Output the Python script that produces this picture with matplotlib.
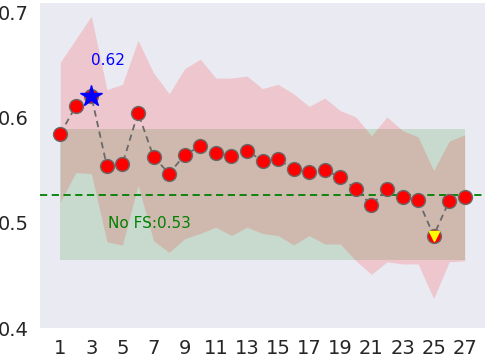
import matplotlib
matplotlib.use("Agg")
import matplotlib.pyplot as plt

# Data
x_vals = list(range(1, 28))
means = [0.585, 0.611, 0.621, 0.554, 0.556, 0.605, 0.563, 0.547, 0.565, 0.573,
         0.567, 0.564, 0.569, 0.559, 0.561, 0.551, 0.549, 0.550, 0.544, 0.532,
         0.517, 0.532, 0.525, 0.522, 0.488, 0.521, 0.525]
band_upper = [0.653, 0.675, 0.697, 0.627, 0.632, 0.674, 0.643, 0.623, 0.647, 0.656,
              0.638, 0.638, 0.640, 0.628, 0.632, 0.623, 0.611, 0.619, 0.607, 0.601,
              0.583, 0.601, 0.588, 0.582, 0.550, 0.578, 0.584]
band_lower = [0.520, 0.548, 0.547, 0.482, 0.479, 0.536, 0.483, 0.472, 0.485, 0.490,
              0.496, 0.488, 0.496, 0.490, 0.488, 0.479, 0.488, 0.480, 0.480, 0.464,
              0.451, 0.463, 0.461, 0.461, 0.428, 0.463, 0.464]
no_fs_mean = 0.527
no_fs_std = 0.0625
best_idx = 2
worst_idx = 24
y_ticks = [0.4, 0.5, 0.6, 0.7]
x_ticks = list(range(1, 28, 2))

fig = plt.figure(figsize=(4.87, 3.54), dpi=100)
ax = fig.add_axes([40/487, 26/354, 445/487, 325/354])
ax.set_facecolor('#EAEAF2')
for s in ax.spines.values():
    s.set_visible(False)

ax.fill_between(x_vals, [no_fs_mean - no_fs_std]*len(x_vals),
                [no_fs_mean + no_fs_std]*len(x_vals), color='green', alpha=0.15, linewidth=0)
ax.fill_between(x_vals, band_lower, band_upper, color='red', alpha=0.15, linewidth=0)
ax.axhline(no_fs_mean, color='green', linestyle='--', linewidth=1.3, dashes=(4, 2.5))

ax.plot(x_vals, means, linestyle='--', color='dimgray', linewidth=1.3,
        marker='o', markersize=10, markerfacecolor='red', markeredgecolor='dimgray',
        markeredgewidth=1, dashes=(3.5, 2.5))
ax.plot([x_vals[best_idx]], [means[best_idx]], marker='*', markersize=16,
        color='blue', linestyle='none')
ax.plot([x_vals[worst_idx]], [means[worst_idx]], marker='v', markersize=7,
        color='yellow', linestyle='none')

ax.text(3, 0.650, f"{means[best_idx]:.2f}", color='blue', fontsize=11)
ax.text(4.05, 0.4955, f"No FS:{no_fs_mean:.2f}", color='green', fontsize=11)

ax.set_ylim(0.4, 0.7095)
ax.set_yticks(y_ticks)
ax.set_yticklabels([f"{v:.1f}" for v in y_ticks])
ax.set_xticks(x_ticks)
ax.tick_params(axis='both', length=0, labelsize=14, labelcolor='#262626', pad=8)

fig.savefig('out.png', dpi=100)
